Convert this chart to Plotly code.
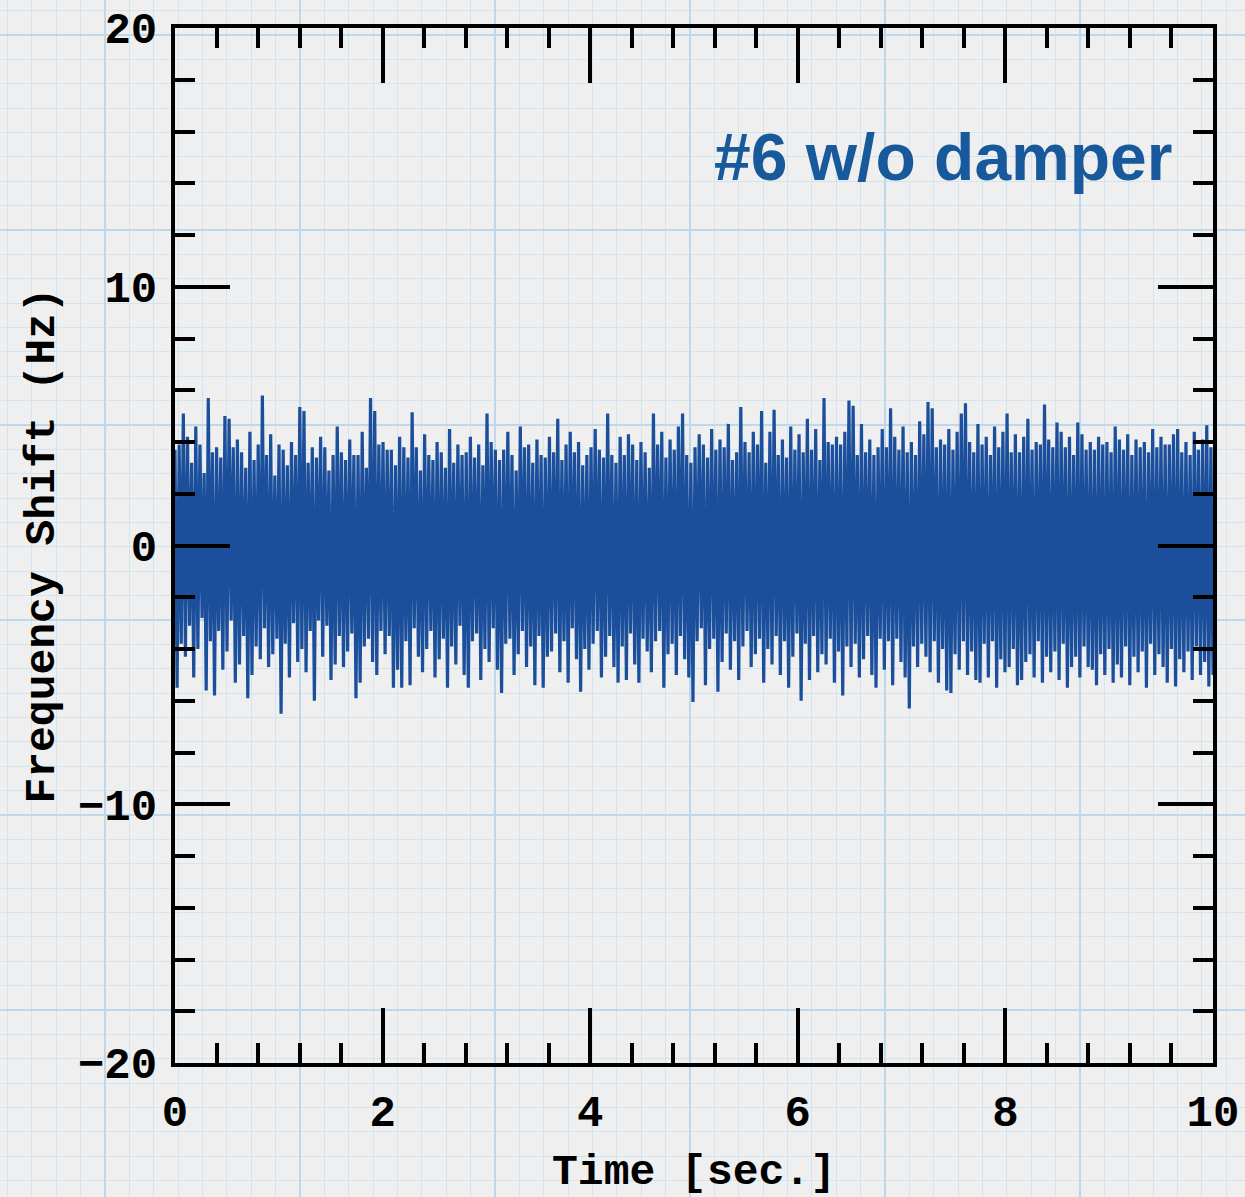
import plotly.graph_objects as go

# ---------------- data ----------------
t_start = 0.0
t_end = 10.0
freq_shift_hz = [
    3.7, -5.5, 3.9, -3.8, 5.1, -4.3, 4.2, -3.1, 3.2, -5.1, 4.6, -4.0, 3.9, -2.8, 2.8, -5.6, 5.7, -3.7, 3.6, -5.8,
    3.8, -3.3, 3.4, -4.8, 5.0, -4.1, 4.9, -2.9, 3.8, -5.3, 4.1, -4.6, 3.6, -3.5, 3.0, -5.9, 4.4, -5.0, 3.3, -3.9,
    3.9, -4.4, 5.8, -3.2, 3.5, -4.7, 4.3, -4.2, 2.7, -3.6, 3.9, -6.5, 3.7, -3.8, 3.1, -5.1, 4.0, -3.0, 3.5, -4.5,
    5.35, -4.0, 5.2, -4.9, 3.2, -3.3, 3.8, -6.0, 3.4, -2.9, 4.2, -4.3, 3.8, -3.1, 2.9, -5.2, 3.5, -4.6, 4.6, -3.5,
    3.6, -4.7, 3.3, -4.1, 4.1, -3.4, 3.5, -5.9, 3.5, -5.3, 4.4, -3.9, 3.0, -3.6, 5.7, -4.5, 5.2, -5.0, 3.9, -3.3,
    4.0, -4.2, 3.7, -3.5, 3.7, -5.5, 3.1, -4.8, 4.2, -5.5, 3.8, -3.7, 3.4, -5.4, 5.15, -3.2, 3.8, -4.3, 2.9, -4.9,
    4.3, -4.0, 3.5, -3.3, 3.3, -5.1, 4.0, -4.4, 3.6, -3.6, 3.0, -5.5, 4.5, -3.9, 3.2, -4.6, 3.9, -3.1, 3.5, -5.0,
    3.6, -5.5, 4.2, -3.7, 3.4, -3.4, 3.9, -5.2, 3.1, -4.0, 5.1, -4.5, 4.0, -3.2, 3.7, -4.8, 3.3, -5.7, 3.7, -3.8,
    4.4, -3.6, 3.5, -5.0, 2.9, -4.2, 4.6, -3.3, 3.8, -4.7, 3.9, -3.9, 3.2, -5.4, 4.1, -3.5, 3.5, -5.5, 3.4, -4.3,
    4.2, -4.1, 3.6, -3.4, 4.9, -4.9, 3.3, -3.7, 3.9, -5.3, 4.4, -3.2, 3.6, -4.4, 4.0, -5.65, 3.1, -4.0, 3.5, -4.8,
    3.8, -3.8, 4.5, -3.3, 3.7, -5.1, 3.4, -4.3, 5.1, -3.5, 3.5, -4.7, 3.2, -5.3, 4.2, -3.9, 3.5, -5.2, 4.3, -3.4,
    3.9, -4.6, 3.3, -5.3, 4.0, -3.6, 3.6, -4.1, 3.0, -4.9, 5.1, -3.7, 3.9, -3.3, 4.4, -5.5, 3.4, -4.2, 4.1, -3.8,
    3.7, -5.0, 4.6, -3.5, 5.1, -4.4, 3.5, -5.1, 3.2, -6.05, 3.8, -3.7, 4.3, -3.2, 3.9, -5.4, 3.4, -4.0, 4.5, -3.6,
    3.7, -5.65, 4.1, -4.5, 3.8, -3.4, 4.7, -4.8, 3.3, -3.7, 3.6, -5.2, 5.35, -3.9, 4.0, -3.3, 3.6, -4.7, 4.4, -4.2,
    3.9, -3.6, 5.2, -5.3, 3.2, -4.0, 4.4, -4.6, 5.25, -3.5, 3.5, -5.0, 4.1, -3.7, 3.4, -5.5, 4.6, -4.3, 3.7, -3.4,
    4.3, -6.0, 3.6, -3.8, 4.9, -5.2, 3.7, -3.5, 4.5, -4.9, 3.3, -4.2, 5.7, -4.6, 4.0, -3.6, 3.9, -5.3, 4.2, -4.1,
    3.9, -5.8, 4.4, -3.9, 5.6, -4.7, 5.4, -3.8, 3.5, -5.1, 4.7, -4.4, 3.6, -3.5, 4.1, -5.0, 3.5, -5.5, 3.8, -3.6,
    4.5, -4.8, 3.8, -3.7, 5.3, -5.4, 4.2, -3.6, 3.7, -4.5, 4.6, -5.1, 3.6, -6.3, 4.0, -3.9, 3.5, -4.7, 4.8, -3.8,
    4.3, -4.3, 5.55, -4.9, 5.3, -3.7, 3.8, -5.3, 4.1, -4.0, 3.9, -5.6, 4.5, -5.7, 3.7, -4.2, 4.4, -4.8, 5.1, -3.7,
    5.5, -5.0, 4.0, -4.1, 3.6, -5.2, 4.7, -5.3, 3.9, -3.8, 4.2, -5.1, 3.5, -3.7, 4.6, -5.5, 3.8, -4.4, 4.4, -4.9,
    5.1, -4.7, 3.6, -4.0, 4.3, -5.4, 3.6, -5.2, 4.2, -4.5, 4.9, -4.2, 3.7, -5.1, 4.0, -3.7, 3.9, -5.3, 5.45, -4.3,
    4.1, -4.9, 3.8, -4.1, 4.75, -5.2, 4.4, -3.8, 3.8, -5.5, 4.2, -4.7, 3.5, -4.3, 4.75, -5.1, 4.3, -3.9, 3.7, -4.7,
    4.0, -4.8, 3.7, -5.4, 4.2, -4.2, 3.9, -5.0, 4.0, -4.0, 3.6, -5.3, 4.6, -4.6, 4.1, -5.1, 3.7, -3.9, 4.3, -5.4,
    3.5, -4.3, 4.1, -4.9, 3.8, -4.1, 4.0, -5.5, 3.6, -3.8, 4.5, -5.0, 3.8, -4.2, 4.2, -4.7, 3.9, -5.3, 3.9, -4.0,
    4.3, -5.45, 4.5, -4.4, 3.6, -4.9, 4.0, -4.1, 3.5, -5.2, 4.4, -3.9, 3.7, -5.0, 4.1, -4.5, 4.65, -5.45, 3.8, -5.0,
]
x_ticks = [0, 2, 4, 6, 8, 10]
y_ticks = [-20, -10, 0, 10, 20]
label_text = "#6 w/o damper"

# ---------------- layout constants ----------------
W, H = 1245, 1197
plot_left, plot_right = 175, 1213
plot_top, plot_bottom = 28, 1063

mono = "Liberation Mono"
ink = "black"
blue = "#1b4f9c"

fig = go.Figure()

# graph-paper background on its own full-page axes (drawn first, beneath data)
fig.add_trace(go.Scatter(x=[None], y=[None], xaxis="x", yaxis="y",
                         showlegend=False, hoverinfo="skip"))

fig.add_trace(go.Scatter(
    y=freq_shift_hz, x0=t_start, dx=(t_end - t_start) / (len(freq_shift_hz) - 1),
    mode="lines", line=dict(color=blue, width=3.2),
    xaxis="x2", yaxis="y2", showlegend=False,
))

grid_major = dict(showgrid=True, gridcolor="#bcd8ea", gridwidth=2.2)
grid_minor = dict(showgrid=True, gridcolor="#d2e4ef", gridwidth=1.4)

fig.update_layout(
    width=W, height=H,
    margin=dict(l=0, r=0, t=0, b=0, autoexpand=False),
    paper_bgcolor="#efefef",
    plot_bgcolor="rgba(0,0,0,0)",
    showlegend=False,
    xaxis=dict(
        domain=[0, 1], range=[0, W], tick0=105, dtick=195, **grid_major,
        minor=dict(tick0=105, dtick=195 / 8, **grid_minor),
        showticklabels=False, ticks="", zeroline=False, showline=False,
        fixedrange=True, automargin=False,
    ),
    yaxis=dict(
        domain=[0, 1], range=[H, 0], tick0=35, dtick=195, **grid_major,
        minor=dict(tick0=35, dtick=195 / 8, **grid_minor),
        showticklabels=False, ticks="", zeroline=False, showline=False,
        fixedrange=True, automargin=False,
    ),
    xaxis2=dict(
        domain=[plot_left / W, plot_right / W], anchor="y2",
        range=[0, 10], tickmode="array", tickvals=x_ticks,
        ticks="inside", ticklen=55, tickwidth=4, tickcolor=ink,
        minor=dict(dtick=0.4, tick0=0, ticks="inside", ticklen=20,
                   tickwidth=4, tickcolor=ink, showgrid=False),
        showline=True, linewidth=4, linecolor=ink, mirror="ticks",
        showgrid=False, zeroline=False, automargin=False,
        tickfont=dict(family=mono, size=44, color=ink, weight="bold"),
        ticklabelstandoff=6,
        title=dict(text="Time [sec.]", standoff=18,
                   font=dict(family=mono, size=43, color=ink, weight="bold")),
    ),
    yaxis2=dict(
        domain=[(H - plot_bottom) / H, (H - plot_top) / H], anchor="x2",
        range=[-20, 20], tickmode="array", tickvals=y_ticks,
        ticks="inside", ticklen=55, tickwidth=4, tickcolor=ink,
        minor=dict(dtick=2, tick0=0, ticks="inside", ticklen=20,
                   tickwidth=4, tickcolor=ink, showgrid=False),
        showline=True, linewidth=4, linecolor=ink, mirror="ticks",
        showgrid=False, zeroline=False, automargin=False,
        tickfont=dict(family=mono, size=44, color=ink, weight="bold"),
        ticklabelstandoff=5,
        title=dict(text="Frequency Shift (Hz)", standoff=11,
                   font=dict(family=mono, size=43, color=ink, weight="bold")),
    ),
    annotations=[dict(
        text=label_text, xref="x2", yref="y2", x=9.63, y=15,
        xanchor="right", yanchor="middle", showarrow=False,
        font=dict(family="Liberation Sans", size=66, color="#17599b", weight="bold"),
    )],
)

fig.write_html(
    "out.html",
    config={"displayModeBar": False},
    post_script="document.body.style.margin='0';document.body.style.overflow='hidden';",
)
